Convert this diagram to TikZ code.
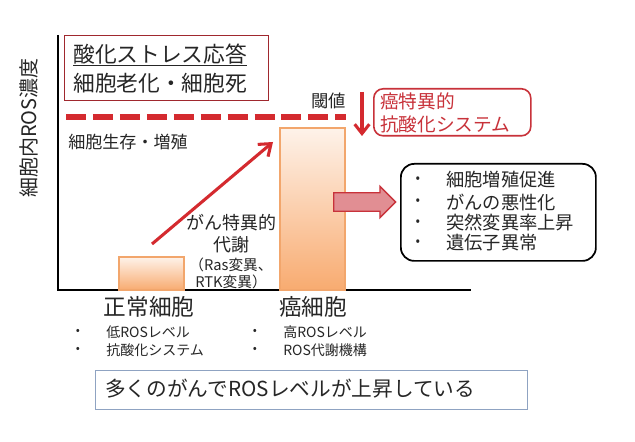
\documentclass[tikz,border=0pt]{standalone}
\usepackage{fontspec}
\setmainfont{Noto Sans CJK JP}
\usetikzlibrary{shapes.arrows,arrows.meta}
\definecolor{myred}{HTML}{D42A2F}
\definecolor{boxred}{HTML}{C8323A}
\definecolor{barfill}{HTML}{F8AB70}
\definecolor{barline}{HTML}{F2A66C}
\definecolor{blueframe}{HTML}{8FA3C2}
\definecolor{txt}{HTML}{262626}
\tikzset{
  lbl/.style={inner sep=0pt, text=txt, font=#1},
  bar/.style={draw=barline, line width=0.8pt, top color=barfill!15, bottom color=barfill},
}
\begin{document}
\begin{tikzpicture}[x=0.75pt,y=-0.75pt]
\useasboundingbox[fill=white] (0,0) rectangle (635,442);
% axes
\coordinate (orig) at (58,290);
\coordinate (ytop) at (58,35);
\coordinate (xend) at (471,290);
\draw[line width=1.9pt, black] (ytop) -- (orig) -- (xend);
\node[lbl={\fontsize{15pt}{17pt}\selectfont}, rotate=90] (ylab) at (29,128) {細胞内ROS濃度};
% stress box
\node[draw=boxred!80!black, line width=0.7pt, minimum width=153pt, minimum height=48.75pt, anchor=north west, inner sep=0pt] (stress) at (64,35) {};
\node[lbl={\fontsize{16.3pt}{18pt}\selectfont}, anchor=west] (st1) at (73,55) {\underline{酸化ストレス応答}};
\node[lbl={\fontsize{16.3pt}{18pt}\selectfont}, anchor=west] (st2) at (73,83) {細胞老化・細胞死};
% threshold
\coordinate (th1) at (66,117);
\coordinate (th2) at (346,117);
\draw[myred, line width=3.8pt, dash pattern=on 15pt off 5.2pt] (th1) -- (th2);
\node[lbl={\fontsize{13pt}{15pt}\selectfont}, anchor=east] (thr) at (346,101) {閾値};
\node[lbl={\fontsize{12.8pt}{15pt}\selectfont}, anchor=west] (surv) at (68,142) {細胞生存・増殖};
% bars
\shade[bar] (119,257) rectangle (184,290);
\node[inner sep=0pt, minimum width=48.75pt, minimum height=24.75pt] (normbar) at (151.5,273.5) {};
\shade[bar] (280,128) rectangle (345,290);
\node[inner sep=0pt, minimum width=48.75pt, minimum height=121.5pt] (cancerbar) at (312.5,209) {};
% red arrow
\coordinate (ra1) at (152,244);
\coordinate (ra2) at (273,142);
\draw[myred, line width=2.3pt, -{Straight Barb[length=8pt,width=12pt,line width=2.3pt]}] (ra1) -- (ra2);
% metabolism label
\node[lbl={\fontsize{13.5pt}{16pt}\selectfont}] (met1) at (231,223) {がん特異的};
\node[lbl={\fontsize{13.5pt}{16pt}\selectfont}] (met2) at (231,245) {代謝};
\node[lbl={\fontsize{11pt}{13pt}\selectfont}] (met3) at (231,265) {（Ras変異、};
\node[lbl={\fontsize{11pt}{13pt}\selectfont}] (met4) at (231,282) {RTK変異）};
% down arrow
\coordinate (da1) at (362,92);
\coordinate (da2) at (362,136);
\draw[myred, line width=2.3pt, -{Straight Barb[length=7pt,width=11pt,line width=2.3pt]}] (da1) -- (da2);
% red rounded box
\node[draw=boxred, line width=1.2pt, rounded corners=7pt, minimum width=117.75pt, minimum height=35.25pt, anchor=north west, inner sep=0pt] (antiox) at (373,88) {};
\node[lbl={\fontsize{14pt}{16pt}\selectfont}, text=boxred, anchor=west] (ao1) at (380,101) {癌特異的};
\node[lbl={\fontsize{14pt}{16pt}\selectfont}, text=boxred, anchor=west] (ao2) at (380,124) {抗酸化システム};
% block arrow
\node[single arrow, draw=boxred, line width=1pt, fill=boxred!55, single arrow head extend=4.9pt, minimum height=46.5pt, inner xsep=0pt, inner ysep=6.4pt, shape border uses incircle=false, anchor=west] (blk) at (333,202) {};
% effects box
\node[draw=black, line width=1.3pt, rounded corners=10pt, minimum width=146.25pt, minimum height=72.75pt, anchor=north west, inner sep=0pt] (eff) at (400,163) {};
\foreach \t/\yy [count=\i] in {細胞増殖促進/180, がんの悪性化/202, 突然変異率上昇/223, 遺伝子異常/243}{
  \node[lbl={\fontsize{10pt}{12pt}\selectfont}, anchor=center] (eb\i) at (418,\yy) {•};
  \node[lbl={\fontsize{13.7pt}{16pt}\selectfont}, anchor=west] (et\i) at (446,\yy) {\t};
}
% cell labels
\node[lbl={\fontsize{17pt}{19pt}\selectfont}] (norm) at (149,307) {正常細胞};
\node[lbl={\fontsize{17pt}{19pt}\selectfont}] (canc) at (313,307) {癌細胞};
\node[lbl={\fontsize{9pt}{12pt}\selectfont}] (nb1) at (78,332) {•};
\node[lbl={\fontsize{9pt}{12pt}\selectfont}] (nb2) at (78,350) {•};
\node[lbl={\fontsize{10.5pt}{12pt}\selectfont}, anchor=west] (nt1) at (106,332) {低ROSレベル};
\node[lbl={\fontsize{10.5pt}{12pt}\selectfont}, anchor=west] (nt2) at (106,350) {抗酸化システム};
\node[lbl={\fontsize{9pt}{12pt}\selectfont}] (cb1) at (255,332) {•};
\node[lbl={\fontsize{9pt}{12pt}\selectfont}] (cb2) at (255,350) {•};
\node[lbl={\fontsize{10.5pt}{12pt}\selectfont}, anchor=west] (ct1) at (283,332) {高ROSレベル};
\node[lbl={\fontsize{10.5pt}{12pt}\selectfont}, anchor=west] (ct2) at (283,350) {ROS代謝機構};
% bottom box
\node[draw=blueframe, line width=0.8pt, minimum width=324pt, minimum height=29.25pt, anchor=north west, inner sep=0pt] (bot) at (95,370) {};
\node[lbl={\fontsize{15.5pt}{18pt}\selectfont}, anchor=west] (bott) at (105,389) {多くのがんでROSレベルが上昇している};
\end{tikzpicture}
\end{document}
